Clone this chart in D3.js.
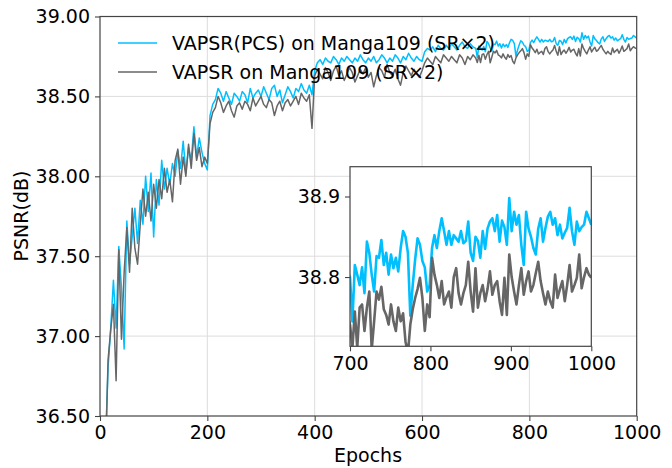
<!DOCTYPE html>
<html><head><meta charset="utf-8">
<script src="https://cdn.jsdelivr.net/npm/d3@7"></script>
<style>
body{margin:0;background:#fff}
svg{display:block}
text{font-family:"DejaVu Sans",sans-serif}
</style>
</head><body>
<svg id="c" width="672" height="468"></svg>
<script>
// ---------- data ----------
const epochsCoarse = d3.range(10, 700, 5);   // 10..695
const epochsFine = d3.range(700, 1001, 3);   // 700..1000
const epochs = epochsCoarse.concat(epochsFine);

const pcsValues = [
  36.30,36.80,37.05,37.35,37.05,37.56,37.30,36.92,37.72,37.45,
  37.62,37.80,37.58,37.85,37.70,38.00,37.78,38.02,37.62,37.98,
  37.82,38.10,37.92,38.05,37.95,38.08,38.00,38.16,38.05,38.22,
  38.02,38.18,38.10,38.31,38.12,38.24,38.15,38.08,
  38.04,38.38,38.45,38.48,38.55,38.52,38.47,38.53,38.49,38.45,
  38.52,38.50,38.47,38.53,38.51,38.46,38.55,38.49,38.52,38.54,
  38.50,38.56,38.52,38.48,38.55,38.57,38.50,38.54,38.46,38.51,
  38.56,38.53,38.49,38.55,38.53,38.58,38.54,38.52,38.57,38.51,
  38.66,38.71,38.73,38.70,38.74,38.72,38.71,38.75,38.73,38.70,
  38.74,38.72,38.75,38.73,38.71,38.74,38.72,38.76,38.73,38.71,
  38.74,38.72,38.75,38.71,38.73,38.76,38.74,38.71,38.74,38.72,
  38.76,38.74,38.71,38.75,38.73,38.77,38.74,38.72,38.75,38.73,
  38.72,38.78,38.80,38.79,38.81,38.78,38.82,38.80,38.79,38.82,
  38.80,38.83,38.81,38.79,38.82,38.84,38.81,38.80,38.83,38.81,
  // 700..1000 step 3
  38.800,38.745,38.815,38.803,38.790,38.812,38.780,38.844,38.830,38.803,
  38.782,38.826,38.824,38.846,38.815,38.830,38.803,38.828,38.811,38.824,
  38.807,38.836,38.857,38.850,38.830,38.752,38.790,38.822,38.848,38.840,
  38.820,38.812,38.782,38.790,38.836,38.852,38.836,38.857,38.873,38.857,
  38.840,38.857,38.840,38.852,38.848,38.844,38.857,38.842,38.845,38.869,
  38.830,38.820,38.850,38.845,38.824,38.857,38.835,38.860,38.869,38.873,
  38.857,38.877,38.844,38.870,38.862,38.840,38.898,38.857,38.881,38.865,
  38.877,38.840,38.815,38.881,38.860,38.850,38.836,38.828,38.860,38.873,
  38.844,38.861,38.875,38.881,38.865,38.873,38.852,38.865,38.848,38.855,
  38.861,38.886,38.857,38.840,38.869,38.857,38.862,38.865,38.881,38.873,
  38.865
];

const baseValues = [
  36.20,36.85,37.04,37.20,36.72,37.54,36.98,37.40,37.68,37.40,
  37.80,37.55,37.45,37.70,37.92,37.75,37.90,37.72,37.95,37.80,
  37.98,37.86,38.05,37.90,37.98,37.84,38.10,38.17,37.95,38.12,
  38.00,38.20,38.05,38.27,38.10,38.18,38.06,38.12,
  38.08,38.33,38.40,38.43,38.50,38.46,38.40,38.44,38.47,38.41,
  38.37,38.44,38.46,38.42,38.47,38.45,38.41,38.49,38.44,38.47,
  38.50,38.45,38.43,38.48,38.46,38.38,38.44,38.47,38.41,38.46,
  38.48,38.44,38.47,38.50,38.45,38.52,38.49,38.47,38.51,38.30,
  38.63,38.67,38.64,38.61,38.68,38.65,38.60,38.66,38.69,38.63,
  38.66,38.60,38.64,38.68,38.65,38.59,38.63,38.67,38.64,38.68,
  38.62,38.65,38.56,38.63,38.68,38.66,38.62,38.70,38.65,38.63,
  38.67,38.61,38.57,38.65,38.69,38.66,38.63,38.67,38.64,38.62,
  38.66,38.71,38.74,38.72,38.70,38.75,38.73,38.71,38.76,38.74,
  38.72,38.75,38.73,38.71,38.76,38.74,38.70,38.75,38.73,38.76,
  // 700..1000 step 3
  38.741,38.712,38.757,38.712,38.762,38.766,38.733,38.762,38.782,38.710,
  38.745,38.782,38.772,38.788,38.760,38.753,38.741,38.766,38.745,38.733,
  38.762,38.745,38.755,38.720,38.705,38.741,38.760,38.774,38.785,38.799,
  38.774,38.733,38.766,38.750,38.824,38.803,38.790,38.774,38.795,38.766,
  38.775,38.782,38.762,38.800,38.811,38.780,38.766,38.780,38.790,38.819,
  38.782,38.757,38.811,38.762,38.780,38.790,38.770,38.785,38.807,38.778,
  38.790,38.795,38.770,38.753,38.799,38.753,38.828,38.800,38.782,38.766,
  38.790,38.811,38.778,38.795,38.807,38.782,38.790,38.805,38.819,38.795,
  38.780,38.766,38.782,38.770,38.762,38.803,38.774,38.785,38.795,38.770,
  38.790,38.815,38.782,38.790,38.799,38.828,38.786,38.800,38.811,38.803,
  38.799
];

const seriesNames = ["VAPSR(PCS) on Manga109 (SR\u00d72)", "VAPSR on Manga109 (SR\u00d72)"];
const seriesColors = ["#00BFFF", "#666666"];

const xTicks = [0, 200, 400, 600, 800, 1000];
const yTicks = [36.5, 37.0, 37.5, 38.0, 38.5, 39.0];
const insetXTicks = [700, 800, 900, 1000];
const insetYTicks = [38.8, 38.9];

// ---------- drawing ----------
const svg = d3.select("#c");
const FS = 19;
const spine = "#444";
const gridC = "#dddddd";

const x = d3.scaleLinear().domain([0, 1000]).range([100, 636.7]);
const y = d3.scaleLinear().domain([36.5, 39.0]).range([416, 16.5]);

const series = [pcsValues, baseValues].map((vals, i) => ({
  name: seriesNames[i], color: seriesColors[i],
  pts: epochs.map((e, j) => [e, vals[j]])
}));

const defs = svg.append("defs");
defs.append("clipPath").attr("id", "mainClip").append("rect")
  .attr("x", 100).attr("y", 16.5).attr("width", 536.7).attr("height", 399.5);

// grid
const grid = svg.append("g");
grid.selectAll(".gx").data(xTicks.slice(1, -1)).join("line")
  .attr("x1", d => x(d)).attr("x2", d => x(d)).attr("y1", 16.5).attr("y2", 416)
  .attr("stroke", gridC).attr("stroke-width", 1);
grid.selectAll(".gy").data(yTicks.slice(1, -1)).join("line")
  .attr("y1", d => y(d)).attr("y2", d => y(d)).attr("x1", 100).attr("x2", 636.7)
  .attr("stroke", gridC).attr("stroke-width", 1);

// main lines
const line = d3.line().x(d => x(d[0])).y(d => y(d[1]));
const mg = svg.append("g").attr("clip-path", "url(#mainClip)");
series.forEach(s => {
  mg.append("path").attr("d", line(s.pts)).attr("fill", "none")
    .attr("stroke", s.color).attr("stroke-width", 1.5).attr("stroke-linejoin", "round");
});

// frame
svg.append("rect").attr("x", 100).attr("y", 16.5).attr("width", 536.7).attr("height", 399.5)
  .attr("fill", "none").attr("stroke", spine).attr("stroke-width", 1.2);

// axes
function styleAxis(g) {
  g.select(".domain").remove();
  g.selectAll(".tick line").attr("stroke", spine).attr("stroke-width", 1.1);
  g.selectAll(".tick text").attr("fill", "#000").style("font-size", FS + "px")
    .style("font-family", "'DejaVu Sans', sans-serif");
}
svg.append("g").attr("transform", "translate(0,416)")
  .call(d3.axisBottom(x).tickValues(xTicks).tickFormat(d3.format("d")).tickSize(5).tickPadding(5))
  .call(styleAxis);
svg.append("g").attr("transform", "translate(100,0)")
  .call(d3.axisLeft(y).tickValues(yTicks).tickFormat(d3.format(".2f")).tickSize(5).tickPadding(5))
  .call(styleAxis);

// axis labels
svg.append("text").attr("x", 368).attr("y", 462).attr("text-anchor", "middle")
  .style("font-size", FS + "px").text("Epochs");
svg.append("text").attr("transform", "translate(28,216) rotate(-90)").attr("text-anchor", "middle")
  .style("font-size", FS + "px").text("PSNR(dB)");

// legend
const leg = svg.append("g");
series.forEach((s, i) => {
  const ly = 43 + i * 29;
  leg.append("line").attr("x1", 118).attr("x2", 157).attr("y1", ly).attr("y2", ly)
    .attr("stroke", s.color).attr("stroke-width", 1.5);
  leg.append("text").attr("x", 172).attr("y", ly).attr("dy", "0.35em")
    .style("font-size", FS + "px").attr("fill", "#000").text(s.name);
});

// ---------- inset ----------
const ix = d3.scaleLinear().domain([700, 1000]).range([350, 591.3]);
const iy = d3.scaleLinear().domain([38.714, 38.937]).range([346.3, 166.7]);
defs.append("clipPath").attr("id", "insetClip").append("rect")
  .attr("x", 350).attr("y", 166.7).attr("width", 241.3).attr("height", 179.6);

svg.append("rect").attr("x", 350).attr("y", 166.7).attr("width", 241.3).attr("height", 179.6)
  .attr("fill", "#fff");
const iline = d3.line().x(d => ix(d[0])).y(d => iy(d[1]));
const ig = svg.append("g").attr("clip-path", "url(#insetClip)");
series.forEach(s => {
  ig.append("path").attr("d", iline(s.pts.filter(p => p[0] >= 690))).attr("fill", "none")
    .attr("stroke", s.color).attr("stroke-width", 2.6).attr("stroke-linejoin", "round");
});
svg.append("rect").attr("x", 350).attr("y", 166.7).attr("width", 241.3).attr("height", 179.6)
  .attr("fill", "none").attr("stroke", spine).attr("stroke-width", 1.2);
svg.append("g").attr("transform", "translate(0,346.3)")
  .call(d3.axisBottom(ix).tickValues(insetXTicks).tickFormat(d3.format("d")).tickSize(5).tickPadding(5))
  .call(styleAxis);
svg.append("g").attr("transform", "translate(350,0)")
  .call(d3.axisLeft(iy).tickValues(insetYTicks).tickFormat(d3.format(".1f")).tickSize(5).tickPadding(5))
  .call(styleAxis);
</script>
</body></html>
